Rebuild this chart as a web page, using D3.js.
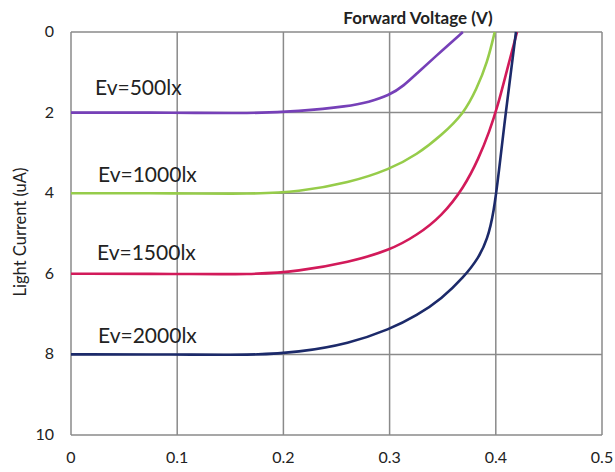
<!DOCTYPE html>
<html>
<head>
<meta charset="utf-8">
<script src="https://cdn.jsdelivr.net/npm/d3@7"></script>
<style>
  body { margin: 0; background: #fff; }
  text { font-family: Lato, "Liberation Sans", sans-serif; fill: #222; }
</style>
</head>
<body>
<div id="chart"></div>
<script>
// data
var xTicks = [0, 0.1, 0.2, 0.3, 0.4, 0.5];
var yTicks = [0, 2, 4, 6, 8, 10];
var labels = ['Ev=500lx', 'Ev=1000lx', 'Ev=1500lx', 'Ev=2000lx'];
var colors = ['#7640b8', '#96cc4a', '#d21a5a', '#1c2a6a'];

var v500 = [[0, 2.0], [0.1, 2.0], [0.17, 2.02], [0.214, 1.97], [0.262, 1.84], [0.28, 1.74], [0.3, 1.57], [0.3135, 1.33], [0.326, 1.02], [0.349, 0.47], [0.369, 0]];
var v1000 = [[0, 4.0], [0.1, 4.0], [0.17, 4.02], [0.214, 3.97], [0.262, 3.74], [0.3, 3.41], [0.326, 3.04], [0.349, 2.56], [0.37, 2.02], [0.382, 1.41], [0.392, 0.76], [0.399, 0]];
var v1500 = [[0, 6.0], [0.1, 6.0], [0.17, 6.02], [0.214, 5.94], [0.262, 5.71], [0.3, 5.42], [0.326, 5.04], [0.349, 4.57], [0.37, 3.86], [0.384, 3.13], [0.394, 2.47], [0.402, 1.82], [0.41, 1.0], [0.42, 0]];
var v2000 = [[0, 8.0], [0.1, 8.0], [0.17, 8.02], [0.214, 7.95], [0.262, 7.73], [0.3, 7.38], [0.326, 7.03], [0.349, 6.62], [0.37, 6.08], [0.384, 5.6], [0.392, 5.15], [0.398, 4.5], [0.403, 3.45], [0.408, 2.3], [0.413, 1.25], [0.419, 0]];
var series = [v500, v1000, v1500, v2000];

var labelPos = [[95, 95], [98, 182], [97, 260], [98, 343]];

var W = 615, H = 472;
var mLeft = 71, mRight = 602, mTop = 32, mBottom = 435;

var svg = d3.select('#chart').append('svg').attr('width', W).attr('height', H);

var x = d3.scaleLinear().domain([0, 0.5]).range([mLeft, mRight]);
var y = d3.scaleLinear().domain([0, 10]).range([mTop, mBottom]);

// grid
svg.append('g').selectAll('line').data(xTicks).enter().append('line')
  .attr('x1', function(d) { return x(d); }).attr('x2', function(d) { return x(d); })
  .attr('y1', mTop).attr('y2', mBottom)
  .attr('stroke', '#8a8a8a').attr('stroke-width', 1.5);
svg.append('g').selectAll('line').data(yTicks).enter().append('line')
  .attr('x1', mLeft).attr('x2', mRight)
  .attr('y1', function(d) { return y(d); }).attr('y2', function(d) { return y(d); })
  .attr('stroke', '#8a8a8a').attr('stroke-width', 1.5);

// tick labels
svg.append('g').selectAll('text').data(xTicks).enter().append('text')
  .attr('x', function(d) { return x(d); }).attr('y', 463)
  .attr('text-anchor', 'middle').style('font-size', '16px')
  .text(function(d) { return d; });
svg.append('g').selectAll('text').data(yTicks).enter().append('text')
  .attr('x', 54).attr('y', function(d) { return y(d) + 5; })
  .attr('text-anchor', 'end').style('font-size', '16px')
  .text(function(d) { return d; });

// axis titles
svg.append('text').attr('x', 418).attr('y', 24).attr('text-anchor', 'middle')
  .style('font-size', '17px').style('font-weight', 'bold').text('Forward Voltage (V)');
svg.append('text').attr('transform', 'translate(26,232) rotate(-90)')
  .attr('text-anchor', 'middle').style('font-size', '16.5px').text('Light Current (uA)');

// curves
var line = d3.line()
  .x(function(d) { return x(d[0]); })
  .y(function(d) { return y(d[1]); })
  .curve(d3.curveBasis);

svg.append('g').selectAll('path').data(series).enter().append('path')
  .attr('d', line)
  .attr('fill', 'none')
  .attr('stroke', function(d, i) { return colors[i]; })
  .attr('stroke-width', 2.6);

// curve labels
svg.append('g').selectAll('text').data(labels).enter().append('text')
  .attr('x', function(d, i) { return labelPos[i][0]; })
  .attr('y', function(d, i) { return labelPos[i][1]; })
  .style('font-size', '21px')
  .text(function(d) { return d; });
</script>
</body>
</html>
